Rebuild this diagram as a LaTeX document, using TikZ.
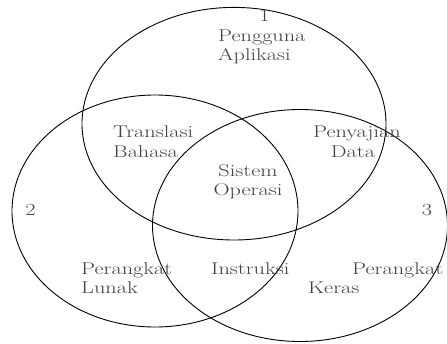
\documentclass[tikz,border=0pt]{standalone}
\usepackage{graphicx}
\newcommand\widetxt[1]{\scalebox{1.31}[1]{#1}}
\tikzset{
  venn/.style={draw=black, line width=0.9pt},
  lbl/.style={inner sep=0pt, text=black!75, font=\fontsize{17}{20}\selectfont},
  lw/.style={lbl, anchor=base west},
  lc/.style={lbl, anchor=base}
}
\begin{document}
\begin{tikzpicture}[x=1pt,y=-1pt]
\useasboundingbox (0,0) rectangle (447,343);
\draw[venn] (234,123.7) ellipse [x radius=152, y radius=116.3];
\draw[venn] (155,211) ellipse [x radius=143, y radius=116];
\draw[venn] (300,225.5) ellipse [x radius=147.5, y radius=116];
\node[lc] (n1) at (264.5,21) {\widetxt{1}};
\node[lw] (pg) at (218,41.7) {\widetxt{Pengguna}};
\node[lw] (ap) at (218,60.7) {\widetxt{Aplikasi}};
\node[lw] (tr) at (113,137) {\widetxt{Translasi}};
\node[lw] (bh) at (113,157) {\widetxt{Bahasa}};
\node[lc] (py) at (357,137) {\widetxt{Penyajian}};
\node[lc] (dt) at (353,157) {\widetxt{Data}};
\node[lc] (ss) at (248,176) {\widetxt{Sistem}};
\node[lc] (op) at (248,195) {\widetxt{Operasi}};
\node[lc] (n2) at (30.5,215) {\widetxt{2}};
\node[lc] (n3) at (427,215) {\widetxt{3}};
\node[lw] (pl) at (81,274) {\widetxt{Perangkat}};
\node[lw] (ln) at (81,293) {\widetxt{Lunak}};
\node[lw] (in) at (211,274) {\widetxt{Instruksi}};
\node[lw] (pk) at (352,274) {\widetxt{Perangkat}};
\node[lw] (kr) at (308,293) {\widetxt{Keras}};
\end{tikzpicture}
\end{document}
